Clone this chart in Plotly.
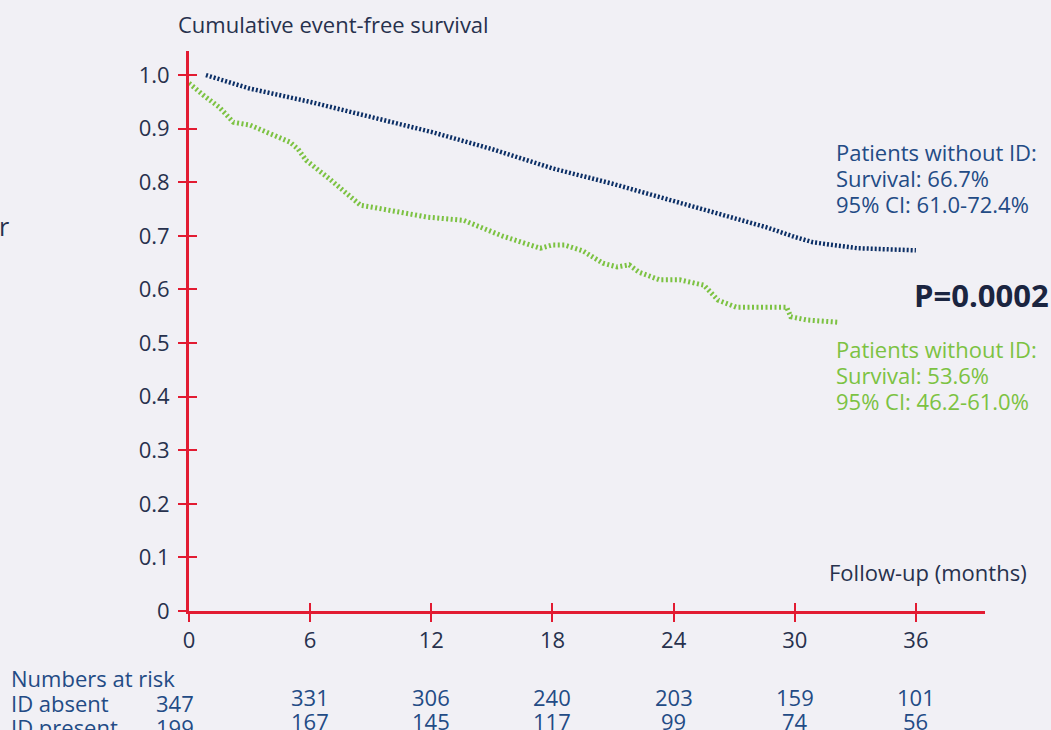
import plotly.graph_objects as go

# ---- data ----
months_absent = [0.84, 3, 6, 9, 12, 15, 18, 21, 24, 26.9, 28.6, 30, 30.9, 33.1, 36]
surv_absent = [1.0, 0.975, 0.95, 0.922, 0.894, 0.862, 0.826, 0.797, 0.765, 0.735, 0.716, 0.698, 0.688, 0.677, 0.673]

months_present = [0, 0.3, 0.7, 1.5, 2.2, 3.0, 4.0, 5.0, 5.4, 5.8, 7.0, 8.5, 9.0, 10.5, 11.8, 13.6,
                  14.5, 15.5, 17.4, 18.0, 18.6, 19.5, 20.5, 21.2, 21.8, 22.3, 23.3, 24.3, 25.5,
                  26.2, 27.1, 29.6, 29.8, 30.6, 32.1]
surv_present = [0.985, 0.975, 0.963, 0.94, 0.912, 0.907, 0.89, 0.875, 0.862, 0.841, 0.805, 0.757,
                0.754, 0.745, 0.735, 0.729, 0.715, 0.700, 0.677, 0.683, 0.683, 0.672, 0.649, 0.642,
                0.646, 0.632, 0.618, 0.618, 0.608, 0.580, 0.567, 0.567, 0.549, 0.543, 0.539]

x_ticks = [0, 6, 12, 18, 24, 30, 36]
y_tickvals = [0, 0.1, 0.2, 0.3, 0.4, 0.5, 0.6, 0.7, 0.8, 0.9, 1.0]
y_ticktext = ["0", "0.1", "0.2", "0.3", "0.4", "0.5", "0.6", "0.7", "0.8", "0.9", "1.0"]

risk_months = [0, 6, 12, 18, 24, 30, 36]
risk_absent = [347, 331, 306, 240, 203, 159, 101]
risk_present = [199, 167, 145, 117, 99, 74, 56]

absent_lines = ["Patients without ID:", "Survival: 66.7%", "95% CI: 61.0-72.4%"]
present_lines = ["Patients without ID:", "Survival: 53.6%", "95% CI: 46.2-61.0%"]

# ---- style ----
BG = "#f1f0f5"
RED = "#e21b32"
NAVY_LINE = "#0c2f66"
GREEN = "#7cc242"
TXT = "#27314d"
BLUE_TXT = "#234b85"
FONT = "Open Sans"
FS = 22

fig = go.Figure()
fig.add_trace(go.Scatter(x=months_absent, y=surv_absent, mode="lines",
                         line=dict(color=NAVY_LINE, width=4.5, dash="2px,2px"),
                         showlegend=False, hoverinfo="skip"))
fig.add_trace(go.Scatter(x=months_present, y=surv_present, mode="lines",
                         line=dict(color=GREEN, width=5, dash="2px,2.5px"),
                         showlegend=False, hoverinfo="skip"))

xr = [0, 39.42]
yr = [0, 1.045]

fig.update_layout(
    width=1051, height=730,
    margin=dict(l=189, r=66, t=51, b=119),
    paper_bgcolor=BG, plot_bgcolor=BG,
    font=dict(family=FONT, size=FS, color=TXT),
    xaxis=dict(range=xr, showgrid=False, zeroline=False, showline=True,
               linecolor=RED, linewidth=3, ticks="outside", ticklen=8,
               tickwidth=2, tickcolor=RED, tickvals=x_ticks,
               tickfont=dict(size=FS, color=TXT), ticklabelstandoff=0),
    yaxis=dict(range=yr, showgrid=False, zeroline=False, showline=True,
               linecolor=RED, linewidth=3, ticks="outside", ticklen=8,
               tickwidth=2, tickcolor=RED, tickvals=y_tickvals, ticktext=y_ticktext,
               tickfont=dict(size=FS, color=TXT), ticklabelstandoff=4),
    xaxis2=dict(range=xr, overlaying="x", showgrid=False, zeroline=False,
                ticks="inside", ticklen=8, tickwidth=2, tickcolor=RED,
                tickvals=x_ticks, showticklabels=False),
    yaxis2=dict(range=yr, overlaying="y", showgrid=False, zeroline=False,
                ticks="inside", ticklen=8, tickwidth=2, tickcolor=RED,
                tickvals=y_tickvals, showticklabels=False),
)
# dummy trace so overlay axes render
fig.add_trace(go.Scatter(x=[None], y=[None], xaxis="x2", yaxis="y2",
                         showlegend=False, hoverinfo="skip"))

def px_x(p):
    return (p - 189) / 796

def px_y(p):
    return (611 - p) / 560

ann = []
def text(t, x, y, color=TXT, size=FS, anchor="left"):
    ann.append(dict(text=t, x=px_x(x), y=px_y(y), xref="paper", yref="paper",
                    xanchor=anchor, yanchor="middle", showarrow=False,
                    font=dict(size=size, color=color)))

text("Cumulative event-free survival", 176, 24)
text("Follow-up (months)", 1029, 572, anchor="right")
for i, t in enumerate(absent_lines):
    text(t, 834, 152 + 26 * i, color=BLUE_TXT)
for i, t in enumerate(present_lines):
    text(t, 834, 349 + 26 * i, color=GREEN)
text("<b>P=0.0002</b>", 912, 295, color="#1b2540", size=31)
text("r", -3, 226, size=25)

# numbers at risk
text("Numbers at risk", 9, 678, color=BLUE_TXT)
text("ID absent", 9, 703, color=BLUE_TXT)
text("ID present", 9, 727, color=BLUE_TXT)
for i, (m, a, p) in enumerate(zip(risk_months, risk_absent, risk_present)):
    first = (i == 0)
    ya = px_y(703 if first else 697)
    yp = px_y(727 if first else 721)
    for val, yy in ((a, ya), (p, yp)):
        ann.append(dict(text=str(val), x=m, y=yy, xref="x", yref="paper",
                        xanchor="center", yanchor="middle", showarrow=False,
                        xshift=-14 if first else 0,
                        font=dict(size=FS, color=BLUE_TXT)))

fig.update_layout(annotations=ann)
fig.write_html(
    "out.html",
    config={"displayModeBar": False},
    post_script="document.body.style.margin='0';document.body.style.overflow='hidden';"
                "document.body.style.background='#f1f0f5';",
)
